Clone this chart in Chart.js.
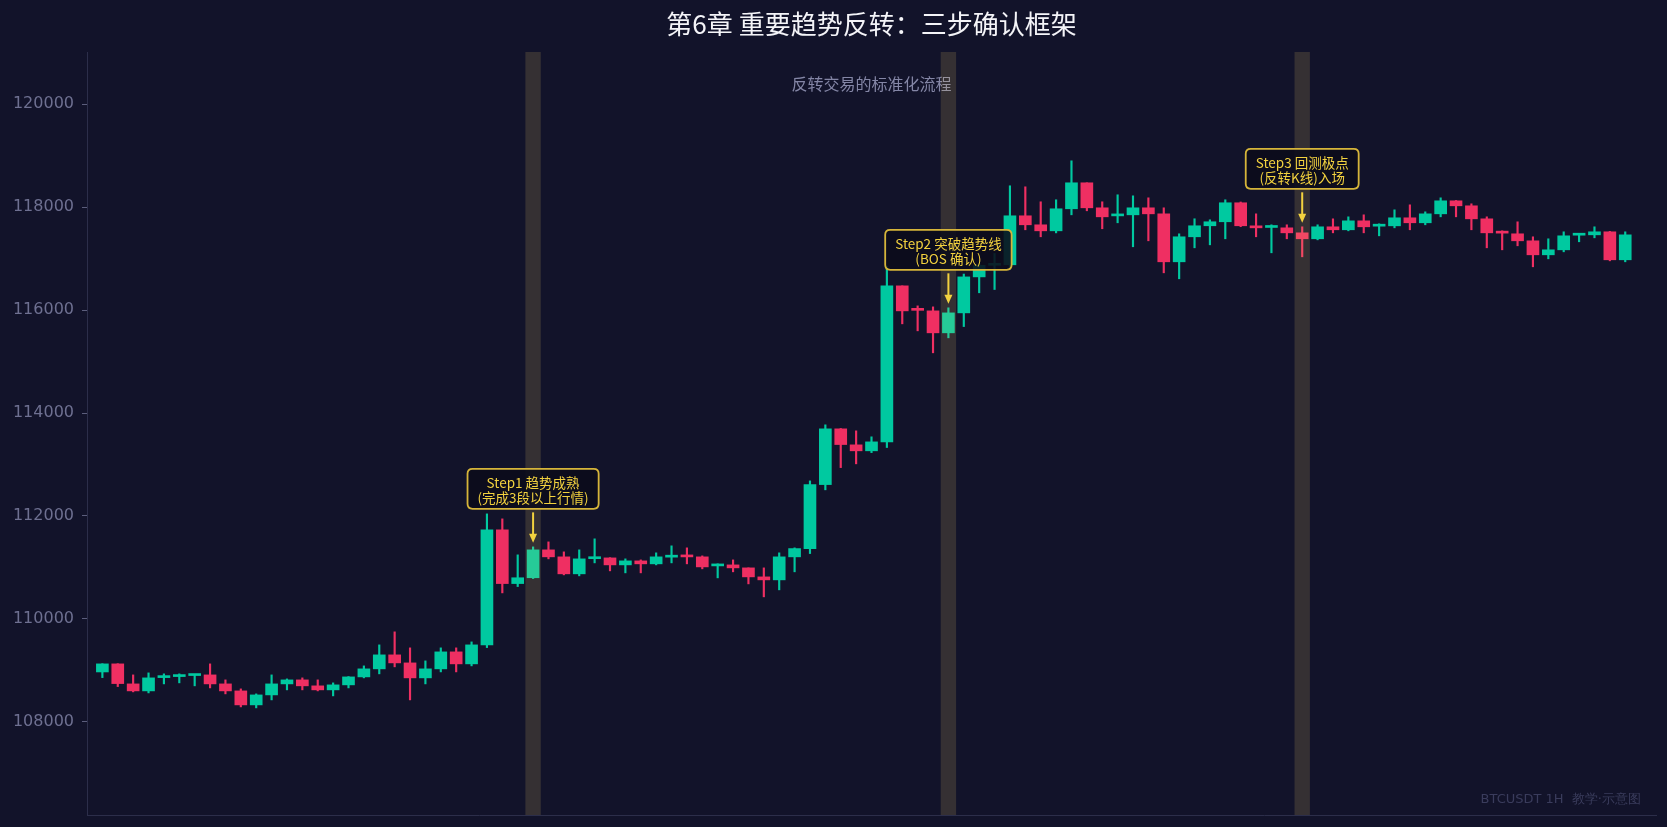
<!DOCTYPE html>
<html>
<head>
<meta charset="utf-8">
<script src="https://cdn.jsdelivr.net/npm/chart.js@4.4.0/dist/chart.umd.min.js"></script>
<style>
  html, body { margin: 0; padding: 0; background: #12132a; }
  #wrap { width: 1667px; height: 827px; }
</style>
</head>
<body>
<div id="wrap"><canvas id="chart" width="1667" height="827"></canvas></div>
<script>
// BTCUSDT 1H candles
const opens = [
  108970, 109127, 108738, 108602, 108860, 108880, 108900, 108913, 108738, 108602,
  108330, 108524, 108738, 108816, 108700, 108622, 108719, 108874, 109030, 109302,
  109146, 108855, 109030, 109360, 109127, 109496, 111731, 110687, 110800, 111342,
  111206, 110876, 111170, 111186, 111050, 111128, 111070, 111200, 111215, 111206,
  111030, 111050, 110992, 110817, 110759, 111206, 111367, 112610, 113693, 113382,
  113266, 113440, 116471, 116005, 115985, 115558, 115946, 116645, 116870, 116880,
  117832, 117657, 117540, 117968, 118473, 117987, 117830, 117851, 117987, 117870,
  116938, 117424, 117638, 117716, 118085, 117630, 117605, 117598, 117501, 117385,
  117618, 117560, 117734, 117630, 117637, 117793, 117696, 117870, 118123, 118026,
  117773, 117510, 117482, 117346, 117074, 117171, 117455, 117462, 117521, 116977
];
const highs = [
  109130, 109130, 108913, 108952, 108933, 108933, 108920, 109127, 108816, 108641,
  108544, 108913, 108835, 108855, 108816, 108758, 108880, 109088, 109496, 109749,
  109438, 109185, 109438, 109438, 109554, 112041, 111944, 111245, 111400, 111497,
  111303, 111342, 111556, 111190, 111167, 111147, 111284, 111420, 111381, 111225,
  111070, 111147, 110992, 110992, 111284, 111381, 112682, 113771, 113700, 113654,
  113538, 116850, 116471, 116082, 116063, 116044, 116700, 116900, 117100, 118415,
  118395, 118104, 118143, 118900, 118473, 118104, 118240, 118220, 118181, 117987,
  117482, 117774, 117754, 118143, 118100, 117870, 117657, 117657, 117618, 117657,
  117773, 117812, 117851, 117676, 117948, 118045, 117909, 118181, 118130, 118065,
  117812, 117540, 117715, 117424, 117385, 117521, 117482, 117618, 117530, 117521
];
const lows = [
  108860, 108686, 108583, 108563, 108738, 108758, 108700, 108660, 108544, 108291,
  108272, 108427, 108622, 108622, 108602, 108505, 108660, 108855, 108933, 109069,
  108427, 108738, 108971, 108971, 109088, 109443, 110506, 110629, 110785, 111167,
  110856, 110837, 111089, 110934, 110895, 110895, 111050, 111089, 111070, 110973,
  110798, 110915, 110681, 110429, 110565, 110915, 111270, 112508, 112940, 113013,
  113231, 113330, 115733, 115597, 115170, 115461, 115680, 116336, 116400, 116800,
  117560, 117424, 117500, 117851, 117929, 117580, 117696, 117230, 117346, 116724,
  116608, 117210, 117268, 117385, 117620, 117424, 117113, 117385, 117035, 117365,
  117501, 117540, 117501, 117443, 117598, 117560, 117657, 117812, 117812, 117560,
  117210, 117171, 117249, 116841, 116996, 117132, 117327, 117404, 116957, 116938
];
const closes = [
  109127, 108744, 108602, 108855, 108875, 108890, 108915, 108738, 108602, 108330,
  108524, 108738, 108816, 108700, 108622, 108719, 108874, 109030, 109302, 109146,
  108855, 109030, 109360, 109127, 109496, 111731, 110687, 110800, 111342, 111206,
  110876, 111167, 111185, 111050, 111128, 111070, 111206, 111215, 111205, 111011,
  111045, 110992, 110817, 110759, 111206, 111367, 112610, 113693, 113388, 113266,
  113440, 116471, 115985, 115995, 115558, 115946, 116645, 116870, 116880, 117832,
  117657, 117540, 117968, 118473, 117987, 117812, 117845, 117987, 117870, 116938,
  117424, 117638, 117716, 118085, 117638, 117598, 117615, 117501, 117385, 117618,
  117560, 117734, 117618, 117645, 117793, 117696, 117870, 118123, 118026, 117773,
  117501, 117495, 117346, 117074, 117171, 117443, 117470, 117521, 116977, 117462
];

const yTicks = [108000, 110000, 112000, 114000, 116000, 118000, 120000];

// the three steps: highlighted candle, two lines of label
const stepIdx = [28, 55, 78];
const stepLine1 = ['Step1 趋势成熟', 'Step2 突破趋势线', 'Step3 回测极点'];
const stepLine2 = ['(完成3段以上行情)', '(BOS 确认)', '(反转K线)入场'];

const TITLE = '第6章 重要趋势反转：三步确认框架';
const SUBTITLE = '反转交易的标准化流程';
const WATERMARK = 'BTCUSDT 1H  教学·示意图';

const UP = '#00c9a0';
const DOWN = '#ef2f62';
const GOLD = '#f3d23f';
const CJK = '"Noto Sans CJK SC", "Noto Sans", sans-serif';

const candleColor = ctx => {
  const i = ctx.dataIndex;
  return closes[i] >= opens[i] ? UP : DOWN;
};

const wickData = lows.map((l, i) => ({ x: i, y: [l, highs[i]] }));
const bodyData = opens.map((o, i) => ({ x: i, y: [o, closes[i]] }));

function roundRect(ctx, x, y, w, h, r) {
  ctx.beginPath();
  ctx.moveTo(x + r, y);
  ctx.lineTo(x + w - r, y);
  ctx.quadraticCurveTo(x + w, y, x + w, y + r);
  ctx.lineTo(x + w, y + h - r);
  ctx.quadraticCurveTo(x + w, y + h, x + w - r, y + h);
  ctx.lineTo(x + r, y + h);
  ctx.quadraticCurveTo(x, y + h, x, y + h - r);
  ctx.lineTo(x, y + r);
  ctx.quadraticCurveTo(x, y, x + r, y);
  ctx.closePath();
}

// background, titles, step bands and callouts
const decor = {
  id: 'decor',
  beforeDraw(chart) {
    const { ctx, width, height } = chart;
    ctx.save();
    ctx.fillStyle = '#12132a';
    ctx.fillRect(0, 0, width, height);
    ctx.restore();
  },
  afterDatasetsDraw(chart) {
    const { ctx, chartArea: a, scales: { x, y } } = chart;
    const cx = (a.left + a.right) / 2;
    ctx.save();

    ctx.textAlign = 'center';
    ctx.textBaseline = 'middle';
    ctx.fillStyle = '#f4f4f8';
    ctx.font = '26px ' + CJK;
    ctx.fillText(TITLE, cx, 24);

    ctx.fillStyle = '#8486a6';
    ctx.font = '16px ' + CJK;
    ctx.fillText(SUBTITLE, cx, 84);

    // shaded column behind each step candle
    const half = (x.getPixelForValue(1) - x.getPixelForValue(0)) / 2;
    ctx.fillStyle = 'rgba(255, 215, 110, 0.15)';
    stepIdx.forEach(i => {
      const px = x.getPixelForValue(i);
      ctx.fillRect(px - half, a.top, half * 2, a.bottom - a.top);
    });

    // callout boxes with arrows
    ctx.font = '13.5px ' + CJK;
    stepIdx.forEach((i, k) => {
      const px = x.getPixelForValue(i);
      const py = y.getPixelForValue(highs[i]);
      const lines = [stepLine1[k], stepLine2[k]];
      const w = Math.max(...lines.map(t => ctx.measureText(t).width)) + 20;
      const h = 40;
      const bottom = py - 38;
      const top = bottom - h;

      roundRect(ctx, px - w / 2, top, w, h, 5);
      ctx.fillStyle = 'rgba(11, 11, 26, 0.88)';
      ctx.fill();
      ctx.lineWidth = 1.8;
      ctx.strokeStyle = '#d6b53a';
      ctx.stroke();

      ctx.fillStyle = GOLD;
      ctx.fillText(lines[0], px, top + 14.5);
      ctx.fillText(lines[1], px, top + 29.5);

      const y0 = bottom + 3.5;
      const y1 = py - 4;
      ctx.strokeStyle = GOLD;
      ctx.lineWidth = 2;
      ctx.beginPath();
      ctx.moveTo(px, y0);
      ctx.lineTo(px, y1 - 7);
      ctx.stroke();
      ctx.fillStyle = GOLD;
      ctx.beginPath();
      ctx.moveTo(px - 4, y1 - 9);
      ctx.lineTo(px + 4, y1 - 9);
      ctx.lineTo(px, y1);
      ctx.closePath();
      ctx.fill();
    });

    ctx.textAlign = 'right';
    ctx.fillStyle = '#3a3c5c';
    ctx.font = '13px "DejaVu Sans", sans-serif';
    ctx.fillText(WATERMARK, 1641, 800);

    ctx.restore();
  }
};

new Chart(document.getElementById('chart').getContext('2d'), {
  type: 'bar',
  data: {
    datasets: [
      {
        data: wickData,
        backgroundColor: candleColor,
        barThickness: 1.5,
        grouped: false,
        order: 2,
      },
      {
        data: bodyData,
        backgroundColor: candleColor,
        barThickness: 12,
        minBarLength: 2,
        grouped: false,
        order: 1,
      },
    ],
  },
  options: {
    responsive: false,
    animation: false,
    layout: { padding: { top: 52, right: 11, left: 0, bottom: 0 } },
    plugins: {
      legend: { display: false },
      title: { display: false },
      tooltip: { enabled: false },
    },
    scales: {
      x: {
        type: 'linear',
        offset: false,
        min: -1,
        max: 101,
        ticks: { display: false },
        grid: { display: false },
        border: { display: true, color: '#2c2e4a' },
        afterFit: s => { s.height = 12; },
      },
      y: {
        min: 106191,
        max: 121014,
        afterBuildTicks: s => { s.ticks = yTicks.map(v => ({ value: v })); },
        afterFit: s => { s.width = 87; s.paddingTop = 0; s.paddingBottom = 0; },
        grid: { display: true, drawOnChartArea: false, drawTicks: true, tickLength: 5, color: '#5c5e7c' },
        border: { display: true, color: '#2c2e4a' },
        ticks: {
          color: '#6e7091',
          padding: 8,
          font: { family: 'DejaVu Sans', size: 16 },
          callback: v => String(v),
        },
      },
    },
  },
  plugins: [decor],
});
</script>
</body>
</html>
